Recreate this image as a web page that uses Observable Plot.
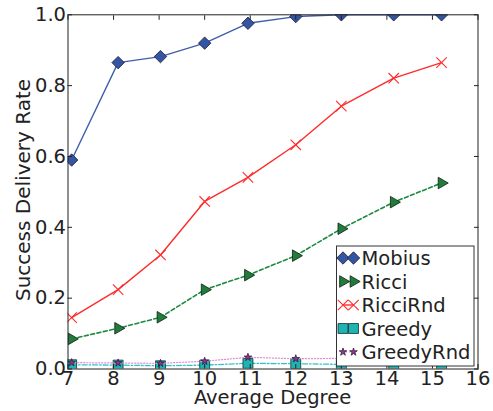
<!DOCTYPE html>
<html>
<head>
<meta charset="utf-8">
<script src="https://cdn.jsdelivr.net/npm/d3@7"></script>
<script src="https://cdn.jsdelivr.net/npm/@observablehq/plot@0.6"></script>
<style>
  html, body { margin: 0; padding: 0; background: #fff; }
  svg { display: block; }
</style>
</head>
<body>
<div id="chart"></div>
<script>
// ---- data ----
const degree    = [7.08, 8.1, 9.03, 10, 10.95, 12, 13, 14.15, 15.2];
const mobius    = [0.59, 0.865, 0.882, 0.92, 0.976, 0.995, 1.0, 1.0, 1.0];
const ricci     = [0.085, 0.115, 0.146, 0.224, 0.265, 0.32, 0.396, 0.471, 0.525];
const ricciRnd  = [0.145, 0.224, 0.322, 0.473, 0.541, 0.633, 0.742, 0.821, 0.865];
const greedy    = [0.012, 0.011, 0.009, 0.011, 0.016, 0.015, 0.013, 0.013, 0.013];
const greedyRnd = [0.018, 0.017, 0.016, 0.022, 0.033, 0.029, 0.03, 0.031, 0.031];
const seriesNames = ["Mobius", "Ricci", "RicciRnd", "Greedy", "GreedyRnd"];
const xTicks = [7, 8, 9, 10, 11, 12, 13, 14, 15, 16];
const yTicks = [0, 0.2, 0.4, 0.6, 0.8, 1.0];
const xLabel = "Average Degree";
const yLabel = "Success Delivery Rate";

// ---- styles ----
const styles = {
  Mobius:    {values: mobius,    line: "#3f5fae", dash: null,     lw: 1.4, symbol: "diamond2", r: 5.6, fill: "#3454a4", mstroke: "#1a1a2a", rotate: 0},
  Ricci:     {values: ricci,     line: "#1e8a40", dash: "4,2.5",  lw: 1.6, symbol: "triangle", r: 4.3, fill: "#1f7c3c", mstroke: "#102010", rotate: 90},
  RicciRnd:  {values: ricciRnd,  line: "#ff2b2b", dash: null,     lw: 1.4, symbol: "times",    r: 4.8, fill: "none",    mstroke: "#ff2b2b", rotate: 0},
  Greedy:    {values: greedy,    line: "#2fc4cc", dash: "5,2,1.5,2", lw: 1.3, symbol: "square", r: 5.6, fill: "#1fb4b4", mstroke: "#103030", rotate: 0},
  GreedyRnd: {values: greedyRnd, line: "#e08ed0", dash: "1.2,1.8", lw: 1.2, symbol: "star",   r: 2.4, fill: "#8b3896", mstroke: "#3a1a3a", rotate: 0}
};

const marks = [];
for (const name of seriesNames) {
  const s = styles[name];
  const rows = degree.map((d, i) => ({x: d, y: s.values[i]}));
  marks.push(Plot.line(rows, {x: "x", y: "y", stroke: s.line, strokeWidth: s.lw, strokeDasharray: s.dash, clip: true}));
  marks.push(Plot.dot(rows, {x: "x", y: "y", symbol: s.symbol, r: s.r, fill: s.fill, stroke: s.mstroke,
    strokeWidth: name === "RicciRnd" ? 1.1 : 0.8, rotate: s.rotate, clip: true}));
}

const W = 493, H = 411;
const mL = 67.5, mR = 15.5, mT = 14.3, mB = 42.5;

const svg = Plot.plot({
  width: W, height: H,
  marginLeft: mL, marginRight: mR, marginTop: mT, marginBottom: mB,
  style: {fontFamily: "DejaVu Sans, sans-serif", fontSize: "19.5px", color: "#222", background: "#fff"},
  x: {domain: [7, 16]},
  y: {domain: [0, 1]},
  marks: [
    ...marks,
    Plot.axisX({ticks: xTicks, tickSize: -4.5, tickPadding: 7, tickFormat: d => String(d), label: null, fontSize: 19.5}),
    Plot.axisX({anchor: "top", ticks: xTicks, tickSize: -4.5, tickFormat: () => "", label: null}),
    Plot.axisY({ticks: yTicks, tickSize: -4.5, tickPadding: 6.5, tickFormat: d => d.toFixed(1), label: null, fontSize: 19.5}),
    Plot.axisY({anchor: "right", ticks: yTicks, tickSize: -4.5, tickFormat: () => "", label: null}),
    Plot.frame({stroke: "#222", strokeWidth: 1})
  ]
});

const g = d3.select(svg);
// axis labels
g.append("text").attr("x", (mL + W - mR) / 2).attr("y", 403.5)
  .attr("text-anchor", "middle").attr("font-size", 19.5).attr("fill", "#222")
  .attr("font-family", "DejaVu Sans, sans-serif").text(xLabel);
g.append("text").attr("transform", `translate(29.5,${190}) rotate(-90)`)
  .attr("text-anchor", "middle").attr("font-size", 20).attr("fill", "#222")
  .attr("font-family", "DejaVu Sans, sans-serif").text(yLabel);

// legend
const symMap = {diamond2: d3.symbolDiamond2, triangle: d3.symbolTriangle, times: d3.symbolTimes, square: d3.symbolSquare, star: d3.symbolStar};
const lg = g.append("g").attr("text-anchor", "start");
lg.append("rect").attr("x", 336.5).attr("y", 246).attr("width", 137.5).attr("height", 120)
  .attr("fill", "#fff").attr("stroke", "#333").attr("stroke-width", 1);
seriesNames.forEach((name, i) => {
  const s = styles[name];
  const cy = 258 + i * 23.5;
  lg.append("line").attr("x1", 343).attr("x2", 353.5).attr("y1", cy).attr("y2", cy)
    .attr("stroke", s.line).attr("stroke-width", s.lw).attr("stroke-dasharray", s.dash);
  for (const cx of [343, 353.5]) {
    lg.append("path")
      .attr("d", d3.symbol(symMap[s.symbol], Math.PI * s.r * s.r)())
      .attr("transform", `translate(${cx},${cy}) rotate(${s.rotate})`)
      .attr("fill", s.fill).attr("stroke", s.mstroke)
      .attr("stroke-width", name === "RicciRnd" ? 1.1 : 0.8);
  }
  lg.append("text").attr("x", 361.5).attr("y", cy + 7).attr("font-size", 19.5).attr("fill", "#222")
    .attr("text-anchor", "start")
    .attr("font-family", "DejaVu Sans, sans-serif").text(name);
});

document.getElementById("chart").appendChild(svg);
</script>
</body>
</html>
